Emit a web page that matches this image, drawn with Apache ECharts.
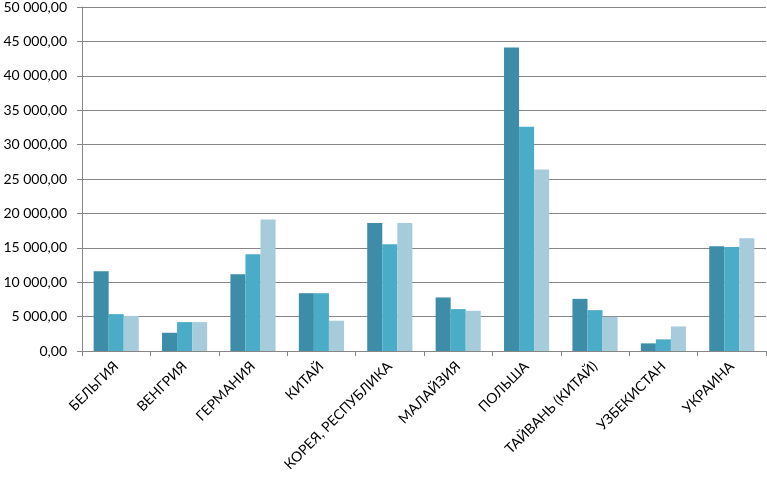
<!DOCTYPE html>
<html>
<head>
<meta charset="utf-8">
<script src="https://cdn.jsdelivr.net/npm/echarts@6/dist/echarts.min.js"></script>
<style>
  html, body { margin: 0; padding: 0; background: #fff; }
  #chart { width: 767px; height: 479px; }
</style>
</head>
<body>
<div id="chart"></div>
<script>
// country categories
const countries = ['БЕЛЬГИЯ', 'ВЕНГРИЯ', 'ГЕРМАНИЯ', 'КИТАЙ', 'КОРЕЯ, РЕСПУБЛИКА',
  'МАЛАЙЗИЯ', 'ПОЛЬША', 'ТАЙВАНЬ (КИТАЙ)', 'УЗБЕКИСТАН', 'УКРАИНА'];

// three series
const seriesA = [11600, 2650, 11150, 8400, 18600, 7780, 44100, 7580, 1110, 15220];
const seriesB = [5360, 4200, 14050, 8400, 15500, 6090, 32600, 5940, 1690, 15120];
const seriesC = [5100, 4200, 19100, 4400, 18600, 5850, 26380, 4970, 3570, 16380];

const colors = ['#3d8ca8', '#4aacc6', '#a6cbdb'];

function fmt(v) {
  const s = String(Math.round(v)).replace(/\B(?=(\d{3})+(?!\d))/g, ' ');
  return s + ',00';
}

const chart = echarts.init(document.getElementById('chart'));
const font = 'Lato';

function bar(data, i) {
  return {
    type: 'bar',
    data: data,
    itemStyle: { color: colors[i] },
    barGap: '0%',
    barCategoryGap: '34%',
  };
}

chart.setOption({
  animation: false,
  grid: { left: 82, right: 1, top: 6, bottom: 128 },
  xAxis: {
    type: 'category',
    data: countries,
    axisLine: { lineStyle: { color: '#868686', width: 1 } },
    axisTick: { show: true, length: 5, lineStyle: { color: '#868686' } },
    axisLabel: {
      rotate: 45,
      margin: 13,
      color: '#000',
      fontFamily: font,
      fontSize: 14,
      interval: 0,
    },
  },
  yAxis: {
    type: 'value',
    min: 0,
    max: 50000,
    interval: 5000,
    axisLine: { show: true, lineStyle: { color: '#868686' } },
    axisTick: { show: true, length: 5, lineStyle: { color: '#868686' } },
    splitLine: { lineStyle: { color: '#868686', width: 1 } },
    axisLabel: {
      formatter: fmt,
      color: '#000',
      fontFamily: font,
      fontSize: 14,
      margin: 15,
    },
  },
  series: [bar(seriesA, 0), bar(seriesB, 1), bar(seriesC, 2)],
});
</script>
</body>
</html>
